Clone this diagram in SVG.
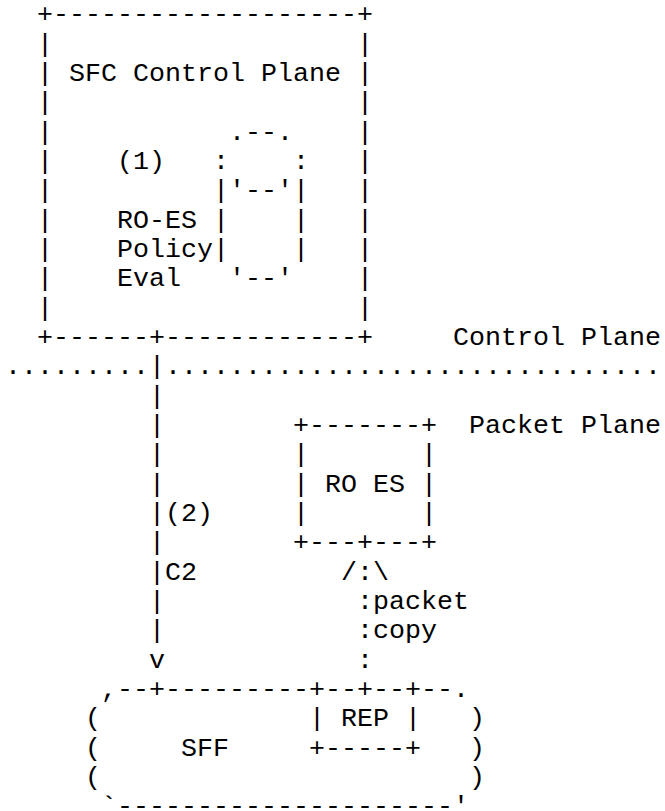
<svg xmlns="http://www.w3.org/2000/svg" width="665" height="811" viewBox="0 0 665 811" xml:space="preserve">
<style>
text { font-family: "Courier New", "Liberation Mono", monospace; font-size: 26.67px; fill: #000; white-space: pre; }
</style>
<rect width="665" height="811" fill="#fff"/>
<g id="sfc-control-plane">
<text x="37" y="22.3">+-------------------+</text>
<text x="37" y="51.6">|                   |</text>
<text x="37" y="81.0">| SFC Control Plane |</text>
<text x="37" y="110.3">|                   |</text>
<text x="37" y="139.6">|           .--.    |</text>
<text x="37" y="169.0">|    (1)   :    :   |</text>
<text x="37" y="198.3">|          |'--'|   |</text>
<text x="37" y="227.6">|    RO-ES |    |   |</text>
<text x="37" y="257.0">|    Policy|    |   |</text>
<text x="37" y="286.3">|    Eval   '--'    |</text>
<text x="37" y="315.6">|                   |</text>
<text x="37" y="345.0">+------+------------+</text>
</g>
<g id="plane-boundary">
<text x="453" y="345.0">Control Plane</text>
<text x="5" y="374.3">.........</text>
<text x="165" y="374.3">...............................</text>
<text x="469" y="433.0">Packet Plane</text>
</g>
<g id="ro-es">
<text x="293" y="433.0">+-------+</text>
<text x="293" y="462.3">|       |</text>
<text x="293" y="491.6">| RO ES |</text>
<text x="293" y="521.0">|       |</text>
<text x="293" y="550.3">+---+---+</text>
</g>
<g id="sff">
<text x="101" y="697.0">,--+---------+--+--+--.</text>
<text x="85" y="726.3">(</text>
<text x="309" y="726.3">| REP |</text>
<text x="469" y="726.3">)</text>
<text x="85" y="755.6">(</text>
<text x="181" y="755.6">SFF</text>
<text x="309" y="755.6">+-----+</text>
<text x="469" y="755.6">)</text>
<text x="85" y="785.0">(</text>
<text x="469" y="785.0">)</text>
<text x="101" y="814.3">`---------------------'</text>
</g>
<g id="connectors">
<text x="149" y="374.3">|</text>
<text x="149" y="403.6">|</text>
<text x="149" y="433.0">|</text>
<text x="149" y="462.3">|</text>
<text x="149" y="491.6">|</text>
<text x="149" y="521.0">|(2)</text>
<text x="149" y="550.3">|</text>
<text x="149" y="579.6">|C2</text>
<text x="149" y="609.0">|</text>
<text x="149" y="638.3">|</text>
<text x="149" y="667.6">v</text>
<text x="341" y="579.6">/:\</text>
<text x="357" y="609.0">:packet</text>
<text x="357" y="638.3">:copy</text>
<text x="357" y="667.6">:</text>
</g>
</svg>
